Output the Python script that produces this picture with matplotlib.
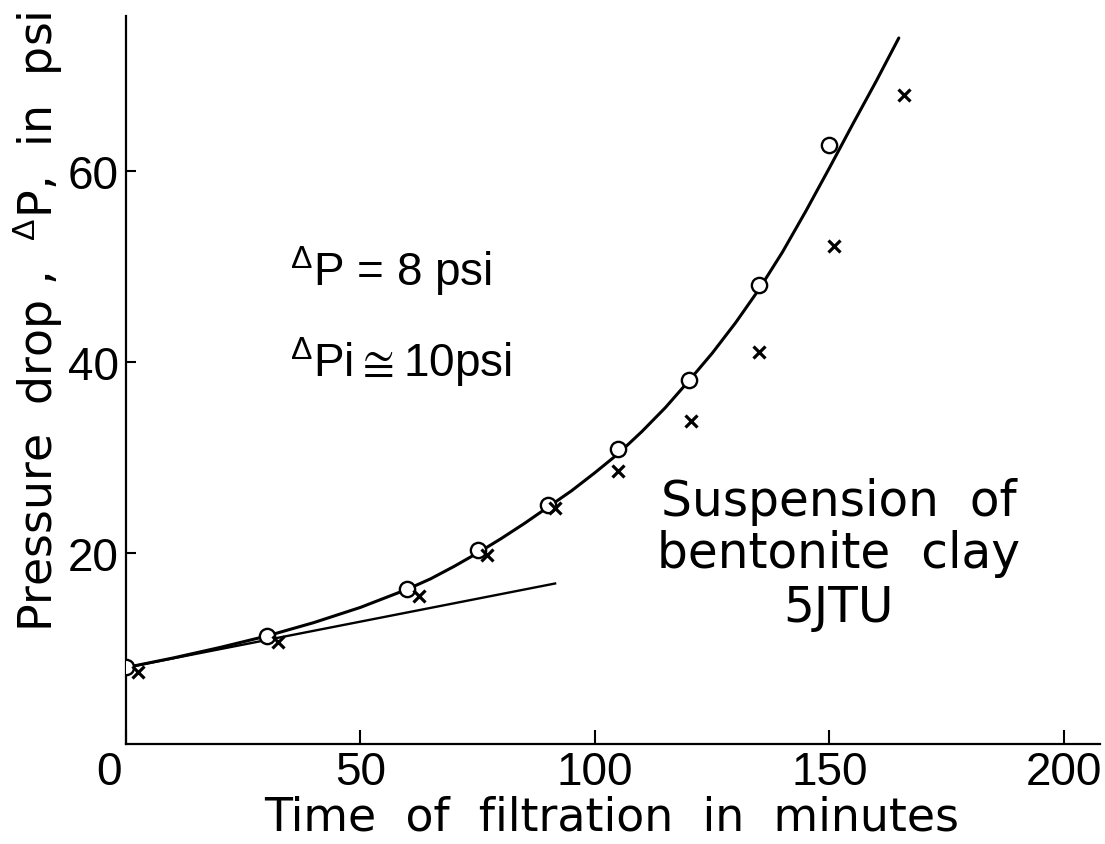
import matplotlib
matplotlib.use("Agg")
import matplotlib.pyplot as plt
from matplotlib.transforms import ScaledTranslation

# filtration run: pressure drop vs time
circle_t = [0, 30, 60, 75, 90, 105, 120, 135, 150]
circle_p = [8.1, 11.3, 16.2, 20.3, 25.0, 30.9, 38.1, 48.0, 62.7]

cross_t = [2.5, 32.5, 62.5, 77, 91.5, 105, 120.5, 135, 151, 166]
cross_p = [7.5, 10.7, 15.5, 19.8, 24.7, 28.6, 33.8, 41.0, 52.1, 67.9]

# hand-drawn fitted curve, read at intervals
curve_t = [0, 10, 20, 30, 40, 50, 60, 65, 70, 75, 80, 85, 90, 95, 100, 105, 110, 115,
           120, 125, 130, 135, 140, 145, 150, 155, 160, 164.8]
curve_p = [8.0, 9.0, 10.1, 11.3, 12.7, 14.3, 16.2, 17.3, 18.6, 20.0, 21.5, 23.1, 24.8,
           26.5, 28.4, 30.4, 32.7, 35.2, 38.0, 40.9, 44.1, 47.6, 51.5, 55.8, 60.3,
           64.9, 69.4, 73.9]

# initial tangent
tangent_t = [0, 91.5]
tangent_p = [8.0, 16.8]

xticks = [0, 50, 100, 150, 200]
yticks = [20, 40, 60]

NUM_FONT = ["Liberation Sans", "DejaVu Sans"]
WORD_FONT = ["DejaVu Sans"]
plt.rcParams["font.family"] = NUM_FONT
plt.rcParams["mathtext.fontset"] = "custom"
plt.rcParams["mathtext.rm"] = "Liberation Sans"

fig = plt.figure(figsize=(11.05, 8.45), dpi=100)
ax = fig.add_axes([126 / 1105, 1 - 745 / 845, (1100 - 126) / 1105, (745 - 17) / 845])

ax.plot(curve_t, curve_p, color="black", linewidth=2.2, solid_capstyle="round",
        solid_joinstyle="round")
ax.plot(tangent_t, tangent_p, color="black", linewidth=1.7)
ax.plot(circle_t, circle_p, linestyle="none", marker="o", markersize=11,
        markerfacecolor="white", markeredgecolor="black", markeredgewidth=1.7, zorder=3)
ax.plot(cross_t, cross_p, linestyle="none", marker="x", markersize=8,
        color="black", markeredgewidth=2.3, zorder=3)

ax.set_xlim(0, 207.7)
ax.set_ylim(0, 76.2)
ax.spines["top"].set_visible(False)
ax.spines["right"].set_visible(False)
for s in ("left", "bottom"):
    ax.spines[s].set_linewidth(1.6)

ax.set_xticks(xticks)
ax.set_yticks(yticks)
ax.tick_params(axis="x", direction="in", length=10, width=1.5, pad=4, labelsize=33)
ax.tick_params(axis="y", direction="in", length=7, width=1.5, pad=5, labelsize=33)

# the hand-lettered "0" sits a little left of its tick
zero = ax.get_xticklabels()[0]
zero.set_transform(zero.get_transform() + ScaledTranslation(-0.17, 0, fig.dpi_scale_trans))

fig.text(612 / 1105, 1 - 818 / 845, "Time  of  filtration  in  minutes", fontsize=33,
         ha="center", va="center", family=WORD_FONT)
fig.text(38 / 1105, 1 - 322 / 845, r"Pressure  drop ,  $^{\Delta}$P,  in  psi", fontsize=33,
         rotation=90, ha="center", va="center", family=WORD_FONT)

# operating conditions
ax.text(35, 48.0, r"$^{\Delta}$P = 8 psi", fontsize=33, ha="left", va="baseline")
ax.text(35, 38.5, r"$^{\Delta}$Pi$\cong$10psi", fontsize=33, ha="left", va="baseline")

ax.text(152, 24.0, "Suspension  of", fontsize=35, ha="center", va="baseline", family=WORD_FONT)
ax.text(152, 18.5, "bentonite  clay", fontsize=35, ha="center", va="baseline", family=WORD_FONT)
ax.text(152, 12.9, "5JTU", fontsize=35, ha="center", va="baseline", family=WORD_FONT)

fig.savefig("out.png", dpi=100)
